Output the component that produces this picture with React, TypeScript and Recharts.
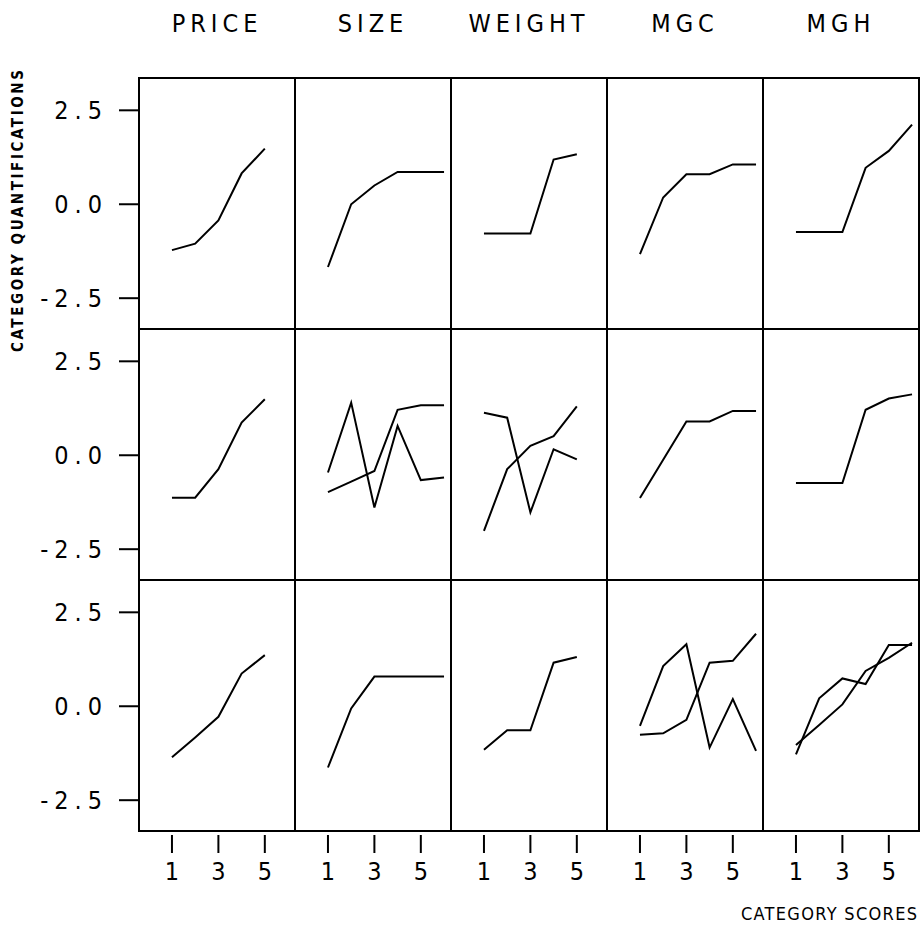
import { LineChart, Line, XAxis, YAxis } from 'recharts';

const variables = ['PRICE', 'SIZE', 'WEIGHT', 'MGC', 'MGH'];
const scores5 = [1, 2, 3, 4, 5];
const scores6 = [1, 2, 3, 4, 5, 6];
const yTicks = [-2.5, 0, 2.5];
const xTicks = [1, 3, 5];

// row 1
const price1 = [-1.22, -1.05, -0.43, 0.82, 1.48];
const size1 = [-1.67, 0.0, 0.5, 0.86, 0.86, 0.86];
const weight1 = [-0.78, -0.78, -0.78, 1.19, 1.33];
const mgc1 = [-1.33, 0.18, 0.8, 0.8, 1.06, 1.06];
const mgh1 = [-0.74, -0.74, -0.74, 0.97, 1.42, 2.12];

// row 2
const price2 = [-1.13, -1.13, -0.37, 0.87, 1.49];
const size2a = [-0.46, 1.4, -1.39, 0.78, -0.66, -0.59];
const size2b = [-0.98, -0.7, -0.42, 1.21, 1.33, 1.33];
const weight2a = [1.13, 1.0, -1.52, 0.16, -0.11];
const weight2b = [-2.01, -0.37, 0.25, 0.51, 1.3];
const mgc2 = [-1.14, -0.12, 0.9, 0.9, 1.18, 1.18];
const mgh2 = [-0.74, -0.74, -0.74, 1.21, 1.51, 1.62];

// row 3
const price3 = [-1.36, -0.83, -0.28, 0.87, 1.36];
const size3 = [-1.63, -0.06, 0.79, 0.79, 0.79, 0.79];
const weight3 = [-1.16, -0.64, -0.64, 1.16, 1.31];
const mgc3a = [-0.52, 1.07, 1.65, -1.1, 0.19, -1.19];
const mgc3b = [-0.76, -0.72, -0.36, 1.16, 1.21, 1.93];
const mgh3a = [-1.28, 0.21, 0.74, 0.59, 1.63, 1.63];
const mgh3b = [-1.03, -0.5, 0.05, 0.94, 1.29, 1.69];

const panels: number[][][][] = [
  [[price1], [size1], [weight1], [mgc1], [mgh1]],
  [[price2], [size2a, size2b], [weight2a, weight2b], [mgc2], [mgh2]],
  [[price3], [size3], [weight3], [mgc3a, mgc3b], [mgh3a, mgh3b]],
];

const X0 = 139;
const Y0 = 78;
const PW = 156;
const PH = 251;
const YAXIS_W = 135;
const XAXIS_H = 60;
const FONT = "'Liberation Sans Narrow', 'DejaVu Sans Condensed', 'Liberation Sans', sans-serif";

const fmtY = (v: number) => (v === 0 ? '0.0' : v < 0 ? '-' + Math.abs(v).toFixed(1) : v.toFixed(1));

const YTick = (props: any) => {
  const { x, y, payload } = props;
  return (
    <g>
      <line x1={x - 20} x2={x} y1={y} y2={y} stroke="#000" strokeWidth={2} />
      <text x={x - 31} y={y + 9} textAnchor="end" fontSize={25} fontFamily={FONT} letterSpacing={6} fill="#000">
        {fmtY(payload.value)}
      </text>
    </g>
  );
};

const XTick = (props: any) => {
  const { x, y, payload } = props;
  return (
    <g>
      <line x1={x} x2={x} y1={y + 4} y2={y + 22} stroke="#000" strokeWidth={2} />
      <text x={x} y={y + 49} textAnchor="middle" fontSize={25} fontFamily={FONT} fill="#000">
        {payload.value}
      </text>
    </g>
  );
};

function Panel({ series, row, col }: { series: number[][]; row: number; col: number }) {
  const cats = series[0].length === 6 ? scores6 : scores5;
  const data = cats.map((c, i) => {
    const d: any = { score: c };
    series.forEach((s, k) => {
      d['s' + k] = s[i];
    });
    return d;
  });
  const withY = col === 0;
  const withX = row === 2;
  const left = X0 + col * PW - (withY ? YAXIS_W : 0);
  const top = Y0 + row * PH;
  return (
    <div style={{ position: 'absolute', left, top }}>
      <LineChart
        width={PW + (withY ? YAXIS_W : 0)}
        height={PH + (withX ? XAXIS_H : 0)}
        data={data}
        margin={{ top: 0, right: 0, bottom: 0, left: 0 }}
      >
        <XAxis
          dataKey="score"
          type="number"
          domain={[-0.42, 6.3]}
          ticks={xTicks}
          hide={!withX}
          height={XAXIS_H}
          axisLine={false}
          tickLine={false}
          tickSize={0}
          tickMargin={0}
          tick={<XTick />}
          interval={0}
        />
        <YAxis
          type="number"
          domain={[-3.32, 3.36]}
          ticks={yTicks}
          hide={!withY}
          width={YAXIS_W}
          axisLine={false}
          tickLine={false}
          tickSize={0}
          tickMargin={0}
          tick={<YTick />}
          interval={0}
          allowDataOverflow
        />
        {series.map((_, k) => (
          <Line
            key={k}
            dataKey={'s' + k}
            type="linear"
            stroke="#000"
            strokeWidth={2}
            dot={false}
            isAnimationActive={false}
          />
        ))}
      </LineChart>
      <div
        style={{
          position: 'absolute',
          left: (withY ? YAXIS_W : 0) - 1,
          top: -1,
          width: PW + 2,
          height: PH + 2,
          border: '2px solid #000',
          boxSizing: 'border-box',
          pointerEvents: 'none',
        }}
      />
    </div>
  );
}

export default function App() {
  return (
    <div style={{ position: 'absolute', left: 0, top: 0, width: 921, height: 928, background: '#fff', fontFamily: FONT }}>
      {variables.map((v, c) => (
        <div
          key={v}
          style={{
            position: 'absolute',
            left: X0 + c * PW,
            top: 9,
            width: PW,
            textAlign: 'center',
            fontSize: 25,
            letterSpacing: 5,
            lineHeight: '30px',
          }}
        >
          {v}
        </div>
      ))}
      <svg width={40} height={400} style={{ position: 'absolute', left: 0, top: 20 }}>
        <text
          transform="translate(23, 191) rotate(-90)"
          textAnchor="middle"
          fontSize={15}
          fontWeight="bold"
          fontFamily={FONT}
          textLength={282}
          lengthAdjust="spacing"
        >
          CATEGORY QUANTIFICATIONS
        </text>
      </svg>
      {panels.map((row, r) =>
        row.map((series, c) => <Panel key={r + '-' + c} series={series} row={r} col={c} />)
      )}
      <svg width={200} height={30} style={{ position: 'absolute', left: 720, top: 898 }}>
        <text x={197} y={22} textAnchor="end" fontSize={18} fontFamily={FONT} textLength={176} lengthAdjust="spacing">
          CATEGORY SCORES
        </text>
      </svg>
    </div>
  );
}
